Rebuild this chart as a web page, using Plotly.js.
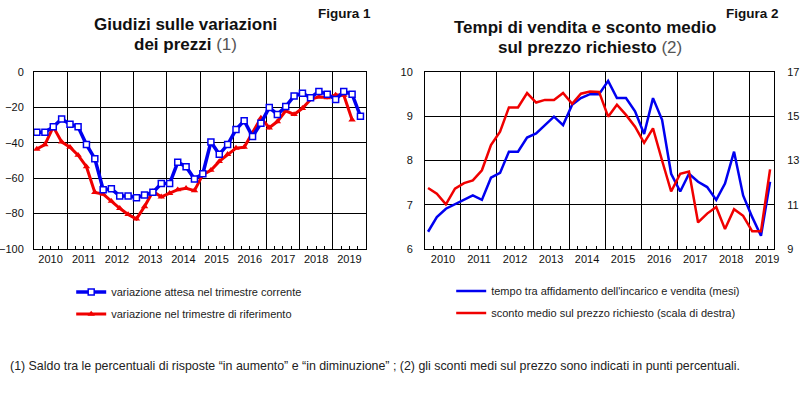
<!DOCTYPE html>
<html><head><meta charset="utf-8">
<script src="https://cdn.plot.ly/plotly-3.0.1.min.js"></script>
<style>html,body{margin:0;padding:0;background:#fff;} #chart{width:800px;height:393px;}</style>
</head><body><div id="chart"></div>
<script>
// Quarterly categories
const years = [2010, 2011, 2012, 2013, 2014, 2015, 2016, 2017, 2018, 2019];
const quarterMonths = ['02', '05', '08', '11'];

// Figura 1 – Giudizi sulle variazioni dei prezzi (saldo %)
const attesaTrimestreCorrente = [
  -34, -34, -31, -26.5,
  -29.5, -31, -41, -49,
  -66.5, -66, -70, -70,
  -71, -69.5, -68, -63,
  -63, -51, -53.5, -60.5,
  -57.5, -39.5, -46.5, -41,
  -32.5, -27.5, -36.5, -29,
  -20, -24, -19.5, -13.5,
  -12, -14.5, -11, -12.5,
  -15.5, -11, -12.5, -25
];
const trimestreRiferimento = [
  -43.5, -41, -31, -39.5,
  -42.5, -47, -53.5, -68,
  -69, -73, -77, -80.5,
  -83, -76, -67.5, -70.5,
  -68.5, -66.5, -65.7, -67,
  -58, -55.5, -50.5, -46.5,
  -43, -42.5, -34.5, -26,
  -31.5, -28, -22, -24,
  -20.5, -15.5, -14, -14.5,
  -13, -13, -27
];

// Figura 2 – Tempi di vendita (mesi) e sconto medio (%)
const tempoVendita = [
  6.39, 6.72, 6.91, 7.01,
  7.11, 7.21, 7.11, 7.61,
  7.72, 8.2, 8.2, 8.52,
  8.61, 8.8, 8.99, 8.8,
  9.26, 9.41, 9.5, 9.5,
  9.8, 9.41, 9.41, 9.11,
  8.6, 9.41, 8.92, 7.7,
  7.3, 7.7, 7.52, 7.4,
  7.11, 7.48, 8.2, 7.21,
  6.72, 6.3, 7.52
];
const scontoMedio = [
  11.76, 11.5, 11.02, 11.73,
  11.98, 12.1, 12.56, 13.7,
  14.3, 15.4, 15.4, 16.05,
  15.62, 15.74, 15.74, 16.05,
  15.56, 16.02, 16.12, 16.1,
  14.98, 15.52, 15.06, 14.53,
  13.8, 14.45, 13.0, 11.6,
  12.4, 12.5, 10.2, 10.6,
  10.9, 9.9, 10.8, 10.5,
  9.8, 9.8, 12.6
];

const quarters = [];
years.forEach(y => quarterMonths.forEach(m => quarters.push(y + '-' + m + '-01')));

const FONT = 'Liberation Sans, Arial, sans-serif';
const BLUE = '#0000f0';
const RED = '#f00000';

const traces = [
  {
    x: quarters.slice(0, trimestreRiferimento.length), y: trimestreRiferimento,
    xaxis: 'x', yaxis: 'y', type: 'scatter', mode: 'lines+markers',
    name: 'variazione nel trimestre di riferimento', legend: 'legend2',
    line: {color: RED, width: 3},
    marker: {symbol: 'triangle-up', size: 6.5, color: RED}
  },
  {
    x: quarters.slice(0, attesaTrimestreCorrente.length), y: attesaTrimestreCorrente,
    xaxis: 'x', yaxis: 'y', type: 'scatter', mode: 'lines+markers',
    name: 'variazione attesa nel trimestre corrente', legend: 'legend',
    line: {color: BLUE, width: 3.5},
    marker: {symbol: 'square', size: 6, color: '#ffffff', line: {color: BLUE, width: 1.5}}
  },
  {
    x: quarters.slice(0, tempoVendita.length), y: tempoVendita,
    xaxis: 'x2', yaxis: 'y3', type: 'scatter', mode: 'lines',
    name: "tempo tra affidamento dell'incarico e vendita (mesi)", legend: 'legend3',
    line: {color: BLUE, width: 2.5}
  },
  {
    x: quarters.slice(0, scontoMedio.length), y: scontoMedio,
    xaxis: 'x2', yaxis: 'y4', type: 'scatter', mode: 'lines',
    name: 'sconto medio sul prezzo richiesto (scala di destra)', legend: 'legend4',
    line: {color: RED, width: 2.5}
  }
];

const tickFont = {family: FONT, size: 11, color: '#111'};
const xBase = {
  type: 'date', dtick: 'M12', tick0: '2010-01-01', tickformat: '%Y',
  ticklabelmode: 'period', showgrid: true, gridcolor: '#000', gridwidth: 1,
  showline: true, linecolor: '#000', linewidth: 1, mirror: true, ticks: '',
  minor: {dtick: 'M3', ticks: 'inside', ticklen: 3, tickcolor: '#000', tickwidth: 1, showgrid: false},
  tickfont: tickFont, zeroline: false, fixedrange: true
};
const yBase = {
  showgrid: true, gridcolor: '#000', gridwidth: 1, showline: true, linecolor: '#000',
  linewidth: 1, mirror: true, ticks: '', ticklabelstandoff: 7, tickfont: tickFont,
  zeroline: false, fixedrange: true
};
const yDom = [0.3664, 0.8168];

const legBase = {
  xanchor: 'left', yanchor: 'middle', bgcolor: 'rgba(0,0,0,0)', borderwidth: 0,
  font: {family: FONT, size: 11, color: '#222'}
};

function ann(x, y, text, size, anchor) {
  return {xref: 'paper', yref: 'paper', x: x / 800, y: 1 - y / 393, xanchor: anchor || 'center',
          yanchor: 'middle', showarrow: false, font: {family: FONT, size: size, color: '#111'}, text: text};
}

const layout = {
  width: 800, height: 393, autosize: false,
  margin: {l: 0, r: 0, t: 0, b: 0},
  paper_bgcolor: '#fff', plot_bgcolor: '#fff',
  showlegend: true,
  xaxis: Object.assign({}, xBase, {domain: [0.0425, 0.4575], anchor: 'y', range: ['2010-01-01', '2020-01-01']}),
  yaxis: Object.assign({}, yBase, {domain: yDom, anchor: 'x', range: [-100, 0], dtick: 20}),
  yaxis2: Object.assign({}, yBase, {overlaying: 'y', side: 'right', anchor: 'x', range: [-100, 0], dtick: 20, showgrid: false, ticklabelstandoff: 9}),
  xaxis2: Object.assign({}, xBase, {domain: [0.53125, 0.9675], anchor: 'y3', range: ['2010-01-01', '2019-09-10']}),
  yaxis3: Object.assign({}, yBase, {domain: yDom, anchor: 'x2', range: [6, 10], dtick: 1, ticklabelstandoff: 9}),
  yaxis4: Object.assign({}, yBase, {overlaying: 'y3', side: 'right', anchor: 'x2', range: [9, 17], tick0: 9, dtick: 2, showgrid: false, ticklabelstandoff: 10}),
  legend: Object.assign({}, legBase, {x: 0.089, y: 1 - 292 / 393}),
  legend2: Object.assign({}, legBase, {x: 0.089, y: 1 - 314 / 393}),
  legend3: Object.assign({}, legBase, {x: 0.564, y: 1 - 291 / 393}),
  legend4: Object.assign({}, legBase, {x: 0.564, y: 1 - 313 / 393}),
  annotations: [
    ann(185, 25, '<b>Giudizi sulle variazioni</b>', 17),
    ann(185, 45, '<b>dei prezzi</b> <span style="color:#555">(1)</span>', 17),
    ann(585, 28, '<b>Tempi di vendita e sconto medio</b>', 17),
    ann(590, 48, '<b>sul prezzo richiesto</b> <span style="color:#555">(2)</span>', 17),
    ann(344, 13, '<b>Figura 1</b>', 13.5),
    ann(752, 13, '<b>Figura 2</b>', 13.5),
    {xref: 'paper', yref: 'paper', x: 8 / 800, y: 1 - 366 / 393, xanchor: 'left', yanchor: 'middle',
     showarrow: false, font: {family: FONT, size: 12.4, color: '#222'},
     text: '(1) Saldo tra le percentuali di risposte \u201cin aumento\u201d e \u201cin diminuzione\u201d ; (2) gli sconti medi sul prezzo sono indicati in punti percentuali.'}
  ]
};

Plotly.newPlot('chart', traces, layout, {staticPlot: true, displayModeBar: false});
</script>
</body></html>
